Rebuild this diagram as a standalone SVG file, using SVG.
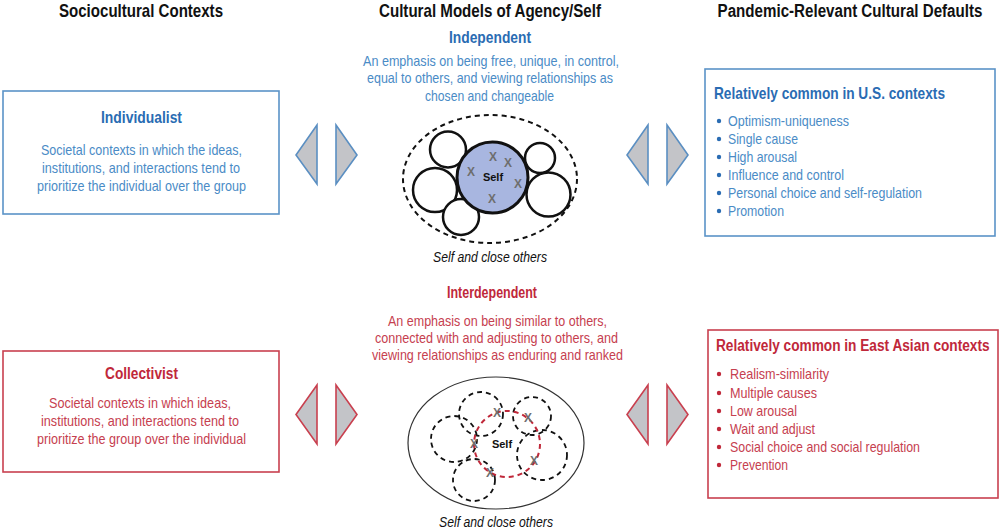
<svg xmlns="http://www.w3.org/2000/svg" width="1000" height="529" viewBox="0 0 1000 529">
<style>
text{font-family:"Liberation Sans",Arial,sans-serif;}
.hdr{font-size:19px;font-weight:bold;fill:#111;text-anchor:middle;}
.bt{font-size:17px;font-weight:bold;fill:#2a6cb3;}
.bb{font-size:15px;fill:#4a8bc6;}
.rt{font-size:17px;font-weight:bold;fill:#c0283a;}
.rb{font-size:15px;fill:#c6404f;}
.c{text-anchor:middle;}
.bbox{fill:#fff;stroke:#5b93c7;stroke-width:1.6;}
.rbox{fill:#fff;stroke:#c9404f;stroke-width:1.6;}
.tb{fill:#c3c4c8;stroke:#5b8fc2;stroke-width:1.6;stroke-linejoin:miter;}
.tr{fill:#c3c4c8;stroke:#c9404f;stroke-width:1.6;stroke-linejoin:miter;}
.cap{font-size:14px;font-style:italic;fill:#111;text-anchor:middle;}
.x{font-size:12px;font-weight:bold;fill:#6e6e6e;text-anchor:middle;}
.self{font-size:11px;font-weight:bold;fill:#111;text-anchor:middle;}
.oc{fill:#fff;stroke:#111;stroke-width:2.5;}
.dc{fill:none;stroke:#111;stroke-width:1.8;stroke-dasharray:5 4;}
</style>

<g id="headers">
<text class="hdr" x="141" y="17" textLength="164" lengthAdjust="spacingAndGlyphs">Sociocultural Contexts</text>
<text class="hdr" x="490" y="17" textLength="222" lengthAdjust="spacingAndGlyphs">Cultural Models of Agency/Self</text>
<text class="hdr" transform="translate(850,17) scale(0.8,1)" x="0" y="0" textLength="331" lengthAdjust="spacingAndGlyphs">Pandemic-Relevant Cultural Defaults</text>
</g>

<g id="individualist">
<rect class="bbox" x="3" y="91" width="276" height="123"/>
<text class="bt c" x="141.5" y="123" textLength="81" lengthAdjust="spacingAndGlyphs">Individualist</text>
<text class="bb c" x="141.5" y="155" textLength="201" lengthAdjust="spacingAndGlyphs">Societal contexts in which the ideas,</text>
<text class="bb c" x="141" y="173" textLength="198" lengthAdjust="spacingAndGlyphs">institutions, and interactions tend to</text>
<text class="bb c" x="141.5" y="191" textLength="209" lengthAdjust="spacingAndGlyphs">prioritize the individual over the group</text>
</g>

<g id="independent">
<text class="bt c" x="490" y="43" textLength="82" lengthAdjust="spacingAndGlyphs">Independent</text>
<text class="bb c" x="491" y="66" textLength="256" lengthAdjust="spacingAndGlyphs">An emphasis on being free, unique, in control,</text>
<text class="bb c" x="490" y="83" textLength="246" lengthAdjust="spacingAndGlyphs">equal to others, and viewing relationships as</text>
<text class="bb c" x="489.5" y="101" textLength="129" lengthAdjust="spacingAndGlyphs">chosen and changeable</text>
<ellipse cx="490" cy="179" rx="87" ry="64" fill="none" stroke="#111" stroke-width="2" stroke-dasharray="5 4"/>
<circle class="oc" cx="448" cy="149.5" r="18"/>
<circle class="oc" cx="435" cy="190" r="22"/>
<circle class="oc" cx="461" cy="217" r="18"/>
<circle class="oc" cx="540" cy="158" r="15"/>
<circle class="oc" cx="548.5" cy="194.5" r="22"/>
<circle cx="492.5" cy="177.5" r="35.5" fill="#a8b6e0" stroke="#111" stroke-width="3"/>
<text class="x" x="493" y="161">X</text>
<text class="x" x="508" y="167">X</text>
<text class="x" x="471" y="176">X</text>
<text class="x" x="518" y="188">X</text>
<text class="x" x="492" y="203">X</text>
<text class="self" x="493" y="181">Self</text>
<text class="cap" x="490" y="262" textLength="114" lengthAdjust="spacingAndGlyphs">Self and close others</text>
</g>

<g id="us-defaults">
<rect class="bbox" x="705" y="69" width="290" height="167"/>
<text class="bt" x="714" y="99" textLength="231" lengthAdjust="spacingAndGlyphs">Relatively common in U.S. contexts</text>
<g fill="#2a6cb3">
<circle cx="719" cy="121" r="2.2"/><circle cx="719" cy="139" r="2.2"/><circle cx="719" cy="157" r="2.2"/>
<circle cx="719" cy="175" r="2.2"/><circle cx="719" cy="193" r="2.2"/><circle cx="719" cy="211" r="2.2"/>
</g>
<text class="bb" x="728" y="126" textLength="121" lengthAdjust="spacingAndGlyphs">Optimism-uniqueness</text>
<text class="bb" x="728" y="144" textLength="70" lengthAdjust="spacingAndGlyphs">Single cause</text>
<text class="bb" x="728" y="162" textLength="69" lengthAdjust="spacingAndGlyphs">High arousal</text>
<text class="bb" x="728" y="180" textLength="116" lengthAdjust="spacingAndGlyphs">Influence and control</text>
<text class="bb" x="728" y="198" textLength="194" lengthAdjust="spacingAndGlyphs">Personal choice and self-regulation</text>
<text class="bb" x="728" y="216" textLength="56" lengthAdjust="spacingAndGlyphs">Promotion</text>
</g>

<g id="collectivist">
<rect class="rbox" x="3" y="351" width="276" height="121"/>
<text class="rt c" x="141.5" y="379" textLength="73" lengthAdjust="spacingAndGlyphs">Collectivist</text>
<text class="rb c" x="140" y="408" textLength="182" lengthAdjust="spacingAndGlyphs">Societal contexts in which ideas,</text>
<text class="rb c" x="140" y="426" textLength="198" lengthAdjust="spacingAndGlyphs">institutions, and interactions tend to</text>
<text class="rb c" x="141.5" y="444" textLength="209" lengthAdjust="spacingAndGlyphs">prioritize the group over the individual</text>
</g>

<g id="interdependent">
<text class="rt c" x="492" y="298" textLength="90" lengthAdjust="spacingAndGlyphs">Interdependent</text>
<text class="rb c" x="497.5" y="326" textLength="219" lengthAdjust="spacingAndGlyphs">An emphasis on being similar to others,</text>
<text class="rb c" x="496.5" y="343" textLength="243" lengthAdjust="spacingAndGlyphs">connected with and adjusting to others, and</text>
<text class="rb c" x="497.5" y="360" textLength="251" lengthAdjust="spacingAndGlyphs">viewing relationships as enduring and ranked</text>
<ellipse cx="496" cy="443" rx="88" ry="66" fill="none" stroke="#333" stroke-width="1.2"/>
<circle class="dc" cx="481" cy="414" r="22"/>
<circle class="dc" cx="454" cy="439" r="23"/>
<circle class="dc" cx="474" cy="480" r="21"/>
<circle class="dc" cx="532" cy="416" r="19"/>
<circle class="dc" cx="542" cy="455" r="25"/>
<circle cx="507" cy="444" r="33" fill="none" stroke="#c0283a" stroke-width="2" stroke-dasharray="5 4"/>
<text class="x" x="497" y="417">X</text>
<text class="x" x="528" y="422">X</text>
<text class="x" x="474" y="448">X</text>
<text class="x" x="534" y="465">X</text>
<text class="x" x="490" y="477">X</text>
<text class="self" x="502" y="448">Self</text>
<text class="cap" x="496" y="527" textLength="114" lengthAdjust="spacingAndGlyphs">Self and close others</text>
</g>

<g id="eastasian-defaults">
<rect class="rbox" x="708" y="330" width="290" height="168"/>
<text class="rt" transform="translate(716,351) scale(0.8,1)" x="0" y="0" textLength="342" lengthAdjust="spacingAndGlyphs">Relatively common in East Asian contexts</text>
<g fill="#c0283a">
<circle cx="719" cy="374" r="2.2"/><circle cx="719" cy="393" r="2.2"/><circle cx="719" cy="411" r="2.2"/>
<circle cx="719" cy="429" r="2.2"/><circle cx="719" cy="447" r="2.2"/><circle cx="719" cy="465" r="2.2"/>
</g>
<text class="rb" x="730" y="379" textLength="99" lengthAdjust="spacingAndGlyphs">Realism-similarity</text>
<text class="rb" x="730" y="398" textLength="87" lengthAdjust="spacingAndGlyphs">Multiple causes</text>
<text class="rb" x="730" y="416" textLength="67" lengthAdjust="spacingAndGlyphs">Low arousal</text>
<text class="rb" x="730" y="434" textLength="85" lengthAdjust="spacingAndGlyphs">Wait and adjust</text>
<text class="rb" x="730" y="452" textLength="190" lengthAdjust="spacingAndGlyphs">Social choice and social regulation</text>
<text class="rb" x="730" y="470" textLength="58" lengthAdjust="spacingAndGlyphs">Prevention</text>
</g>

<g id="connectors">
<polygon class="tb" points="317,125 296,155 317,184"/>
<polygon class="tb" points="336,125 357,155 336,184"/>
<polygon class="tb" points="648,125 627,155 648,184"/>
<polygon class="tb" points="667,125 688,155 667,184"/>
<polygon class="tr" points="317,385 296,414.5 317,444"/>
<polygon class="tr" points="336,385 357,414.5 336,444"/>
<polygon class="tr" points="648,385 627,414.5 648,444"/>
<polygon class="tr" points="667,385 688,414.5 667,444"/>
</g>
</svg>
